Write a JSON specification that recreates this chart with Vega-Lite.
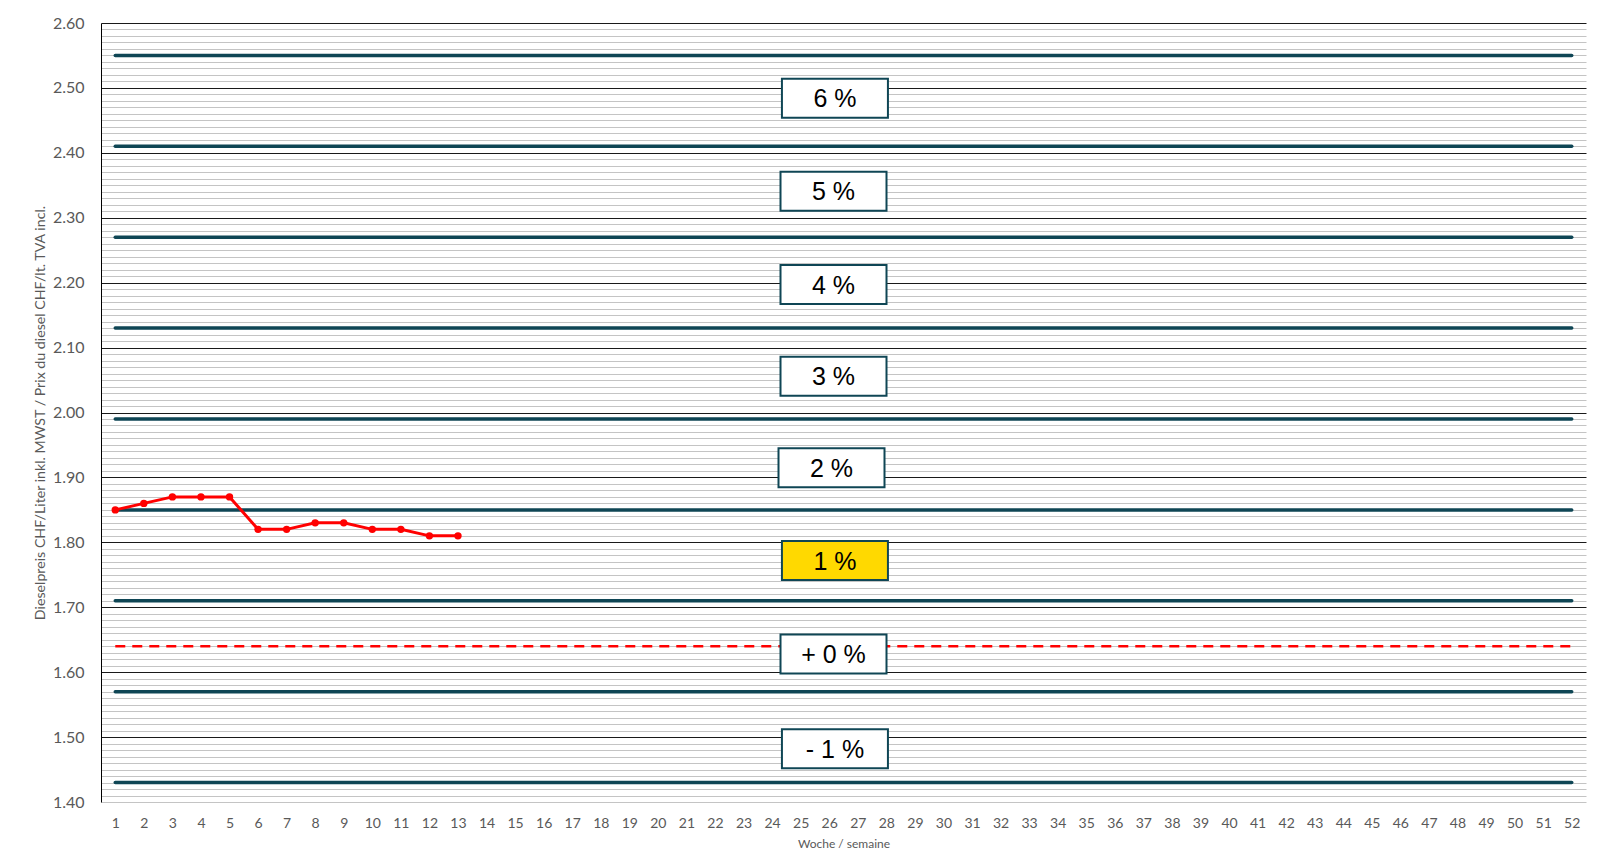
{
  "$schema": "https://vega.github.io/schema/vega-lite/v6.json",
  "autosize": "none",
  "width": 1485,
  "height": 779,
  "padding": {"left": 101, "top": 23, "right": 20, "bottom": 63},
  "background": "white",
  "config": {"view": {"stroke": null}},
  "datasets": {
    "levels": [
      {"week": 1, "price": 2.55, "line": "a"}, {"week": 52, "price": 2.55, "line": "a"},
      {"week": 1, "price": 2.41, "line": "b"}, {"week": 52, "price": 2.41, "line": "b"},
      {"week": 1, "price": 2.27, "line": "c"}, {"week": 52, "price": 2.27, "line": "c"},
      {"week": 1, "price": 2.13, "line": "d"}, {"week": 52, "price": 2.13, "line": "d"},
      {"week": 1, "price": 1.99, "line": "e"}, {"week": 52, "price": 1.99, "line": "e"},
      {"week": 1, "price": 1.85, "line": "f"}, {"week": 52, "price": 1.85, "line": "f"},
      {"week": 1, "price": 1.71, "line": "g"}, {"week": 52, "price": 1.71, "line": "g"},
      {"week": 1, "price": 1.57, "line": "h"}, {"week": 52, "price": 1.57, "line": "h"},
      {"week": 1, "price": 1.43, "line": "i"}, {"week": 52, "price": 1.43, "line": "i"}
    ],
    "base": [
      {"week": 1, "price": 1.64}, {"week": 52, "price": 1.64}
    ],
    "series": [
      {"week": 1, "price": 1.85}, {"week": 2, "price": 1.86}, {"week": 3, "price": 1.87},
      {"week": 4, "price": 1.87}, {"week": 5, "price": 1.87}, {"week": 6, "price": 1.82},
      {"week": 7, "price": 1.82}, {"week": 8, "price": 1.83}, {"week": 9, "price": 1.83},
      {"week": 10, "price": 1.82}, {"week": 11, "price": 1.82}, {"week": 12, "price": 1.81},
      {"week": 13, "price": 1.81}
    ],
    "boxes": [
      {"week": 26.2, "price": 2.484, "label": "6 %"},
      {"week": 26.15, "price": 2.341, "label": "5 %"},
      {"week": 26.15, "price": 2.197, "label": "4 %"},
      {"week": 26.15, "price": 2.056, "label": "3 %"},
      {"week": 26.08, "price": 1.915, "label": "2 %"},
      {"week": 26.2, "price": 1.772, "label": "1 %"},
      {"week": 26.15, "price": 1.628, "label": "+ 0 %"},
      {"week": 26.2, "price": 1.482, "label": "- 1 %"}
    ]
  },
  "encoding": {
    "x": {
      "field": "week", "type": "quantitative",
      "scale": {"domain": [0.5, 52.5], "nice": false, "zero": false},
      "axis": {
        "values": [1,2,3,4,5,6,7,8,9,10,11,12,13,14,15,16,17,18,19,20,21,22,23,24,25,26,27,28,29,30,31,32,33,34,35,36,37,38,39,40,41,42,43,44,45,46,47,48,49,50,51,52],
        "format": "d", "grid": false, "ticks": false, "domain": false,
        "labelFont": "Lato", "labelFontSize": 14, "labelColor": "#595959",
        "labelPadding": 14, "labelOverlap": false, "labelFlush": false,
        "title": "Woche / semaine", "titleFont": "Lato", "titleFontSize": 12,
        "titleFontWeight": "normal", "titleColor": "#595959", "titlePadding": 8
      }
    },
    "y": {
      "field": "price", "type": "quantitative",
      "scale": {"domain": [1.4, 2.6], "nice": false, "zero": false},
      "axis": {
        "values": [1.40,1.41,1.42,1.43,1.44,1.45,1.46,1.47,1.48,1.49,1.50,1.51,1.52,1.53,1.54,1.55,1.56,1.57,1.58,1.59,1.60,1.61,1.62,1.63,1.64,1.65,1.66,1.67,1.68,1.69,1.70,1.71,1.72,1.73,1.74,1.75,1.76,1.77,1.78,1.79,1.80,1.81,1.82,1.83,1.84,1.85,1.86,1.87,1.88,1.89,1.90,1.91,1.92,1.93,1.94,1.95,1.96,1.97,1.98,1.99,2.00,2.01,2.02,2.03,2.04,2.05,2.06,2.07,2.08,2.09,2.10,2.11,2.12,2.13,2.14,2.15,2.16,2.17,2.18,2.19,2.20,2.21,2.22,2.23,2.24,2.25,2.26,2.27,2.28,2.29,2.30,2.31,2.32,2.33,2.34,2.35,2.36,2.37,2.38,2.39,2.40,2.41,2.42,2.43,2.44,2.45,2.46,2.47,2.48,2.49,2.50,2.51,2.52,2.53,2.54,2.55,2.56,2.57,2.58,2.59,2.60],
        "labelExpr": "round(datum.value*100)%10===0 ? format(datum.value,'.2f') : ''",
        "grid": true,
        "gridColor": {"condition": {"test": "round(datum.value*100)%10===0 && datum.value>1.405", "value": "#1a1a1a"}, "value": "#c4c4c4"},
        "gridWidth": 1,
        "ticks": false, "domain": true, "domainColor": "#000000", "domainWidth": 1,
        "labelFont": "Lato", "labelFontSize": 16, "labelColor": "#595959",
        "labelPadding": 17, "labelOverlap": false, "labelFlush": false,
        "title": "Dieselpreis CHF/Liter inkl. MWST / Prix du diesel CHF/lt. TVA incl.",
        "titleFont": "Lato", "titleFontSize": 14.2, "titleFontWeight": "normal",
        "titleColor": "#595959", "titlePadding": 5
      }
    }
  },
  "layer": [
    {
      "data": {"name": "levels"},
      "mark": {"type": "line", "color": "#0f4655", "strokeWidth": 3.5, "strokeCap": "round"},
      "encoding": {"detail": {"field": "line", "type": "nominal"}}
    },
    {
      "data": {"name": "base"},
      "mark": {"type": "line", "color": "#ff0000", "strokeWidth": 2.5, "strokeDash": [10, 7]},
      "encoding": {}
    },
    {
      "data": {"name": "series"},
      "mark": {"type": "line", "color": "#ff0000", "strokeWidth": 3, "point": {"filled": true, "size": 55, "color": "#ff0000"}},
      "encoding": {}
    },
    {
      "data": {"name": "boxes"},
      "mark": {"type": "point", "shape": "M-1,-0.368L1,-0.368L1,0.368L-1,0.368Z", "size": 11236, "filled": false, "stroke": "#0f4655", "strokeWidth": 2, "opacity": 1},
      "encoding": {
        "fill": {"condition": {"test": "datum.label === '1 %'", "value": "#ffd900"}, "value": "#ffffff"},
        "fillOpacity": {"value": 1}
      }
    },
    {
      "data": {"name": "boxes"},
      "mark": {"type": "text", "font": "Liberation Sans", "fontSize": 25, "color": "#000000", "baseline": "middle", "align": "center", "dy": 1},
      "encoding": {"text": {"field": "label", "type": "nominal"}}
    }
  ]
}
